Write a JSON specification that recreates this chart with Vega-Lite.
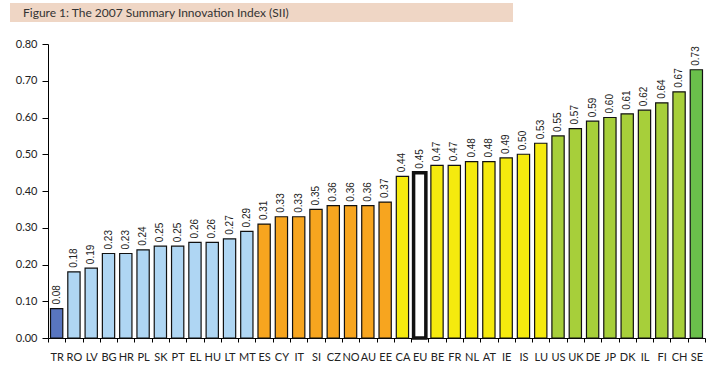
{
  "$schema": "https://vega.github.io/schema/vega-lite/v6.json",
  "padding": {"left": 10, "top": 3, "right": 0, "bottom": 0},
  "background": "white",
  "spacing": 16,
  "config": {"view": {"stroke": null}},
  "datasets": {
    "sii": [
      {"c": "TR", "v": 0.08, "g": "a"},
      {"c": "RO", "v": 0.18, "g": "b"},
      {"c": "LV", "v": 0.19, "g": "b"},
      {"c": "BG", "v": 0.23, "g": "b"},
      {"c": "HR", "v": 0.23, "g": "b"},
      {"c": "PL", "v": 0.24, "g": "b"},
      {"c": "SK", "v": 0.25, "g": "b"},
      {"c": "PT", "v": 0.25, "g": "b"},
      {"c": "EL", "v": 0.26, "g": "b"},
      {"c": "HU", "v": 0.26, "g": "b"},
      {"c": "LT", "v": 0.27, "g": "b"},
      {"c": "MT", "v": 0.29, "g": "b"},
      {"c": "ES", "v": 0.31, "g": "c"},
      {"c": "CY", "v": 0.33, "g": "c"},
      {"c": "IT", "v": 0.33, "g": "c"},
      {"c": "SI", "v": 0.35, "g": "c"},
      {"c": "CZ", "v": 0.36, "g": "c"},
      {"c": "NO", "v": 0.36, "g": "c"},
      {"c": "AU", "v": 0.36, "g": "c"},
      {"c": "EE", "v": 0.37, "g": "c"},
      {"c": "CA", "v": 0.44, "g": "d"},
      {"c": "EU", "v": 0.45, "g": "e"},
      {"c": "BE", "v": 0.47, "g": "d"},
      {"c": "FR", "v": 0.47, "g": "d"},
      {"c": "NL", "v": 0.48, "g": "d"},
      {"c": "AT", "v": 0.48, "g": "d"},
      {"c": "IE", "v": 0.49, "g": "d"},
      {"c": "IS", "v": 0.50, "g": "d"},
      {"c": "LU", "v": 0.53, "g": "d"},
      {"c": "US", "v": 0.55, "g": "f"},
      {"c": "UK", "v": 0.57, "g": "f"},
      {"c": "DE", "v": 0.59, "g": "f"},
      {"c": "JP", "v": 0.60, "g": "f"},
      {"c": "DK", "v": 0.61, "g": "f"},
      {"c": "IL", "v": 0.62, "g": "f"},
      {"c": "FI", "v": 0.64, "g": "f"},
      {"c": "CH", "v": 0.67, "g": "f"},
      {"c": "SE", "v": 0.73, "g": "h"}
    ],
    "head": [{"t": "Figure 1: The 2007 Summary Innovation Index (SII)"}],
    "none": []
  },
  "vconcat": [
    {
      "width": 503,
      "height": 19,
      "view": {"fill": "#efd6c5", "stroke": null},
      "data": {"name": "head"},
      "mark": {"type": "text", "align": "left", "baseline": "middle", "font": "Lato", "fontSize": 12, "color": "#333333", "dx": 13},
      "encoding": {
        "x": {"datum": 0, "type": "quantitative", "scale": {"domain": [0, 1]}, "axis": null},
        "text": {"field": "t"}
      }
    },
    {
      "spacing": 0,
      "hconcat": [
        {
          "width": 1,
          "height": 294,
          "data": {"name": "none"},
          "mark": "text",
          "encoding": {}
        },
        {
          "width": 657,
          "height": 294,
          "data": {"name": "sii"},
          "encoding": {
            "x": {
              "field": "c", "type": "nominal", "sort": null,
              "scale": {"paddingInner": 0, "paddingOuter": 0},
              "axis": {"title": null, "labelAngle": 0, "tickBand": "extent", "domainColor": "#000000", "tickColor": "#000000", "tickSize": 4, "labelPadding": 9, "labelFont": "Lato", "labelFontSize": 11, "labelColor": "#222222"}
            },
            "y": {
              "field": "v", "type": "quantitative",
              "scale": {"domain": [0, 0.8], "nice": false},
              "axis": {"title": null, "grid": false, "format": ".2f", "values": [0, 0.1, 0.2, 0.3, 0.4, 0.5, 0.6, 0.7, 0.8], "domainColor": "#000000", "tickColor": "#000000", "tickSize": 6, "labelPadding": 5, "minExtent": 37, "labelFont": "Lato", "labelFontSize": 11, "labelColor": "#222222"}
            }
          },
          "layer": [
            {
              "mark": {"type": "bar", "width": {"band": 0.71}, "stroke": "#111111", "strokeWidth": 1.2},
              "encoding": {
                "color": {
                  "field": "g", "type": "nominal", "legend": null,
                  "scale": {"domain": ["a", "b", "c", "d", "e", "f", "h"], "range": ["#5875bf", "#afd6f3", "#f7a51f", "#f5ea0e", "#ffffff", "#a7cf3a", "#6abf4b"]}
                },
                "strokeWidth": {"condition": {"test": "datum.c === 'EU'", "value": 3.5}, "value": 1.2}
              }
            },
            {
              "mark": {"type": "text", "angle": 270, "align": "left", "baseline": "middle", "dx": 4, "font": "Liberation Sans", "fontSize": 10, "color": "#222222"},
              "encoding": {
                "text": {"field": "v", "type": "quantitative", "format": ".2f"}
              }
            }
          ]
        }
      ]
    }
  ]
}
